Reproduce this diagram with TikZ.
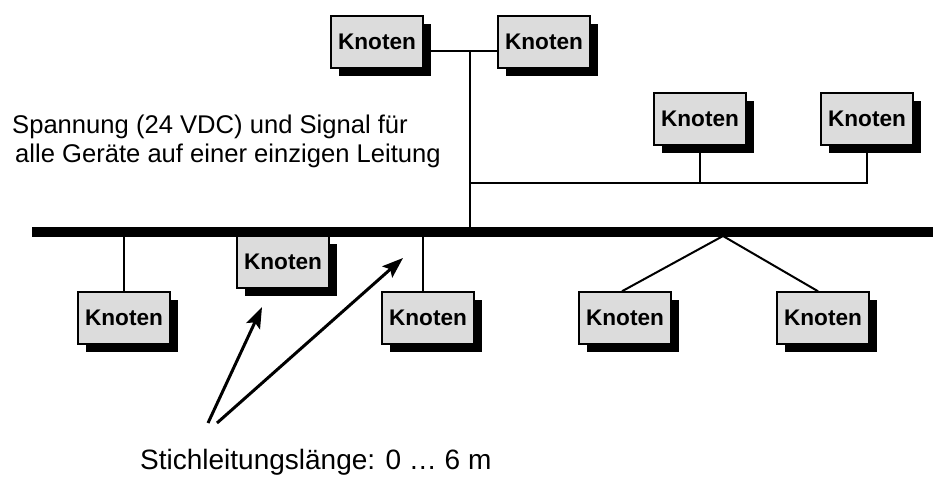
\documentclass[tikz,border=0pt]{standalone}
\usepackage{fontspec}
\setmainfont{Liberation Sans}
\usetikzlibrary{shadows,arrows.meta}
\definecolor{boxfill}{RGB}{220,220,220}
\tikzset{
  knot/.style={draw=black, line width=1.5pt, fill=boxfill, minimum width=92pt, minimum height=52pt,
    inner sep=0pt, font=\fontsize{22.6}{26}\selectfont\bfseries,
    general shadow={fill=black, shadow xshift=8pt, shadow yshift=-8pt}},
  stub/.style={line width=2pt},
  busline/.style={line width=10pt},
  pointer/.style={line width=3pt, -{Stealth[length=21pt,width=15pt,inset=4pt]}},
  caption/.style={anchor=base west, inner sep=0pt, font=\fontsize{25.6}{30}\selectfont}
}
\begin{document}
\begin{tikzpicture}[x=1pt,y=-1pt]
\useasboundingbox (0,0) rectangle (933,477);
% bus
\coordinate (busL) at (32,232);
\coordinate (busR) at (933,232);
\draw[busline] (busL) -- (busR);
% nodes
\node[knot] (k1) at (377,42) {Knoten};
\node[knot] (k2) at (544,42) {Knoten};
\node[knot] (k3) at (700,119) {Knoten};
\node[knot] (k4) at (867,119) {Knoten};
\node[knot] (k5) at (124,318) {Knoten};
\node[knot] (k6) at (283,262) {Knoten};
\node[knot] (k7) at (428,318) {Knoten};
\node[knot] (k8) at (625,318) {Knoten};
\node[knot] (k9) at (823,318) {Knoten};
% junctions
\coordinate (jt) at (470,51);
\coordinate (jm) at (470,183);
\coordinate (jb) at (470,228);
\coordinate (apex) at (723,236);
% connectors
\draw[stub] (k1.east |- jt) -- (k2.west |- jt);
\draw[stub] (jt) -- (jb);
\draw[stub] (jm) -| (k4.south);
\draw[stub] (k3.south) -- (k3.south |- jm);
\draw[stub] (k5.north) -- (k5.north |- apex);
\draw[stub] ([xshift=-5pt]k7.north) -- ([xshift=-5pt]k7.north |- apex);
\draw[stub] ([xshift=-3pt]k8.north) -- (apex) -- ([xshift=-5pt]k9.north);
% texts
\node[caption] (t1) at (12,133) {Spannung (24 VDC) und Signal für};
\node[caption] (t2) at (15,162) {alle Geräte auf einer einzigen Leitung};
\node[caption, font=\fontsize{28}{32}\selectfont] (t3) at (140,469) {Stichleitungslänge: 0 … 6 m};
% arrows
\coordinate (a1s) at (208,423);
\coordinate (a1e) at (262,307);
\coordinate (a2s) at (217,423);
\coordinate (a2e) at (403,258);
\draw[pointer] (a1s) -- (a1e);
\draw[pointer] (a2s) -- (a2e);
\end{tikzpicture}
\end{document}
